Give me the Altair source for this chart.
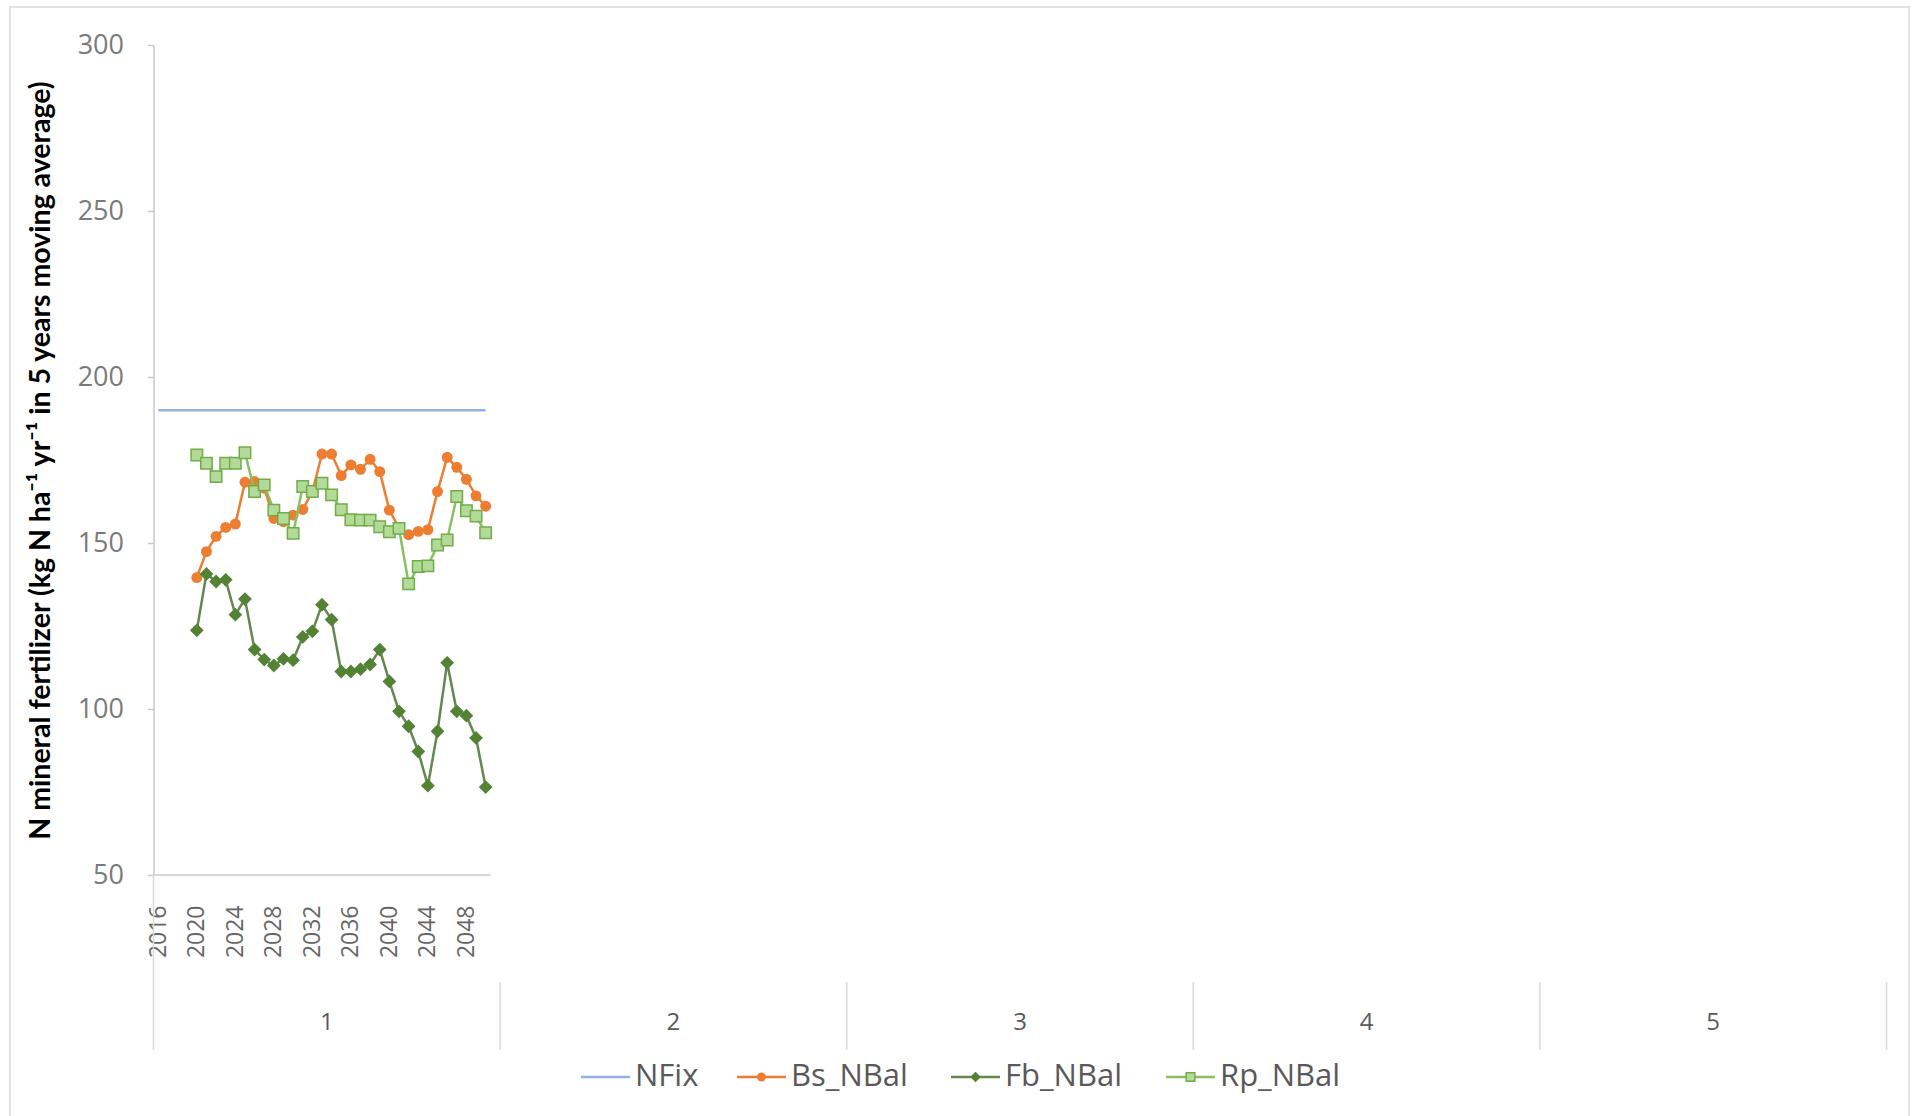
import altair as alt
import pandas as pd

# ---------------- data ----------------
SERIES_NAMES = ["NFix", "Bs_NBal", "Fb_NBal", "Rp_NBal"]

NFIX_YEARS = list(range(2016, 2051))
NFIX_VALUES = [190.0] * 35

YEARS = list(range(2020, 2051))
BS_NBAL = [139.6, 147.4, 152.0, 154.7, 155.7, 168.3, 168.5, 166.5, 157.4, 156.4,
           158.4, 160.1, 165.5, 176.8, 176.8, 170.3, 173.5, 172.2, 175.2, 171.5,
           159.9, 154.5, 152.5, 153.5, 154.0, 165.5, 175.8, 172.8, 169.2, 164.2,
           161.1]
FB_NBAL = [123.7, 140.7, 138.4, 138.9, 128.4, 133.1, 117.9, 114.9, 113.1, 115.1,
           114.7, 121.7, 123.4, 131.4, 126.9, 111.3, 111.3, 112.0, 113.4, 117.9,
           108.3, 99.3, 94.8, 87.2, 76.9, 93.3, 113.9, 99.3, 98.0, 91.3,
           76.5]
RP_NBAL = [176.5, 174.0, 170.0, 174.0, 174.0, 177.2, 165.5, 167.5, 159.9, 157.4,
           152.9, 167.0, 165.5, 168.0, 164.5, 160.0, 157.0, 156.9, 156.9, 154.9,
           153.4, 154.4, 137.7, 142.9, 143.1, 149.4, 150.9, 164.0, 159.7, 158.1,
           153.1]

YEAR_TICKS = [2016, 2020, 2024, 2028, 2032, 2036, 2040, 2044, 2048]
GROUP_LABELS = ["1", "2", "3", "4", "5"]
Y_TICKS = [50, 100, 150, 200, 250, 300]
FIRST_YEAR = 2016
LAST_YEAR = 2050
CATS_PER_GROUP = 36

# ---------------- layout / style ----------------
LEFT, TOP = 153.5, 45
W, H = 1733, 830
N_CATS = CATS_PER_GROUP * len(GROUP_LABELS)

BLUE = "#8DB4E2"
ORANGE = "#ED7D31"
FB_COL = "#548235"
FB_LINE = "#64874F"
RP_LINE = "#86C063"
RP_FILL = "#B4DA9A"
RP_STROKE = "#70AD47"
AXIS_GREY = "#c8c8c8"
LABEL_GREY = "#7a7a7a"
FONT = "Open Sans"


def pos(year):
    return year - FIRST_YEAR + 0.5


x_scale = alt.Scale(domain=[0, N_CATS], nice=False, zero=False)
y_scale = alt.Scale(domain=[50, 300], nice=False, zero=False)


def frame(years, values, name):
    return pd.DataFrame({"x": [pos(y) for y in years], "value": values, "series": name})


df_nfix = frame(NFIX_YEARS, NFIX_VALUES, "NFix")
df_bs = frame(YEARS, BS_NBAL, "Bs_NBal")
df_fb = frame(YEARS, FB_NBAL, "Fb_NBal")
df_rp = frame(YEARS, RP_NBAL, "Rp_NBal")

x_axis = alt.Axis(
    values=[pos(y) for y in YEAR_TICKS],
    labelExpr="'' + (floor(datum.value) + %d)" % FIRST_YEAR,
    labelAngle=270, labelAlign="right", labelBaseline="middle",
    labelPadding=30, ticks=False, domain=False, grid=False, title=None,
    labelFontSize=23, labelColor="#666666", labelFont=FONT,
    labelOverlap=False, labelFlush=False,
)
y_axis = alt.Axis(
    values=Y_TICKS, tickSize=6, tickColor=AXIS_GREY, tickWidth=1.5,
    domainColor=AXIS_GREY, domainWidth=1.5, labelPadding=24,
    labelFontSize=27, labelColor=LABEL_GREY, labelFont=FONT, grid=False,
    title="N mineral fertilizer (kg N ha\u207b\u00b9 yr\u207b\u00b9 in 5 years moving average)",
    titleFont="Lato", titleFontWeight="bold", titleFontSize=28.5, titleColor="#000000",
    titleAngle=270, titleX=-113, titleY=H / 2, titleAlign="center", titleBaseline="middle",
)


def X():
    return alt.X("x:Q", scale=x_scale, axis=x_axis)


def Y():
    return alt.Y("value:Q", scale=y_scale, axis=y_axis)


nfix_line = alt.Chart(df_nfix).mark_line(color=BLUE, strokeWidth=2.5).encode(x=X(), y=Y())

bs_line = alt.Chart(df_bs).mark_line(color=ORANGE, strokeWidth=2.5).encode(x=X(), y=Y())
bs_pts = alt.Chart(df_bs).mark_point(shape="circle", filled=True, color=ORANGE, size=120, opacity=1).encode(x=X(), y=Y())

fb_line = alt.Chart(df_fb).mark_line(color=FB_LINE, strokeWidth=2.5).encode(x=X(), y=Y())
fb_pts = alt.Chart(df_fb).mark_point(shape="diamond", filled=True, color=FB_COL, size=190, opacity=1).encode(x=X(), y=Y())

rp_line = alt.Chart(df_rp).mark_line(color=RP_LINE, strokeWidth=2.5).encode(x=X(), y=Y())
rp_pts = alt.Chart(df_rp).mark_point(shape="square", filled=True, fill=RP_FILL, stroke=RP_STROKE,
                                     strokeWidth=1.5, size=130, opacity=1).encode(x=X(), y=Y())

# x-axis line under the first group
df_xline = pd.DataFrame({"x": [0], "x2": [pos(LAST_YEAR) + 0.5], "value": [50]})
x_line = alt.Chart(df_xline).mark_rule(color=AXIS_GREY, strokeWidth=1.5).encode(
    x=X(), x2="x2:Q", y=Y())

# group separators and labels
df_groups = pd.DataFrame({
    "x": [CATS_PER_GROUP * (k + 0.5) for k in range(len(GROUP_LABELS))],
    "label": GROUP_LABELS,
})
df_bounds = pd.DataFrame({"x": [CATS_PER_GROUP * k for k in range(1, len(GROUP_LABELS) + 1)]})
group_text = alt.Chart(df_groups).mark_text(fontSize=24, font=FONT, color="#595959", baseline="middle").encode(
    x=X(), y=alt.value(H + 148), text="label:N")
group_seps = alt.Chart(df_bounds).mark_rule(color="#d9d9d9", strokeWidth=1.5).encode(
    x=X(), y=alt.value(H + 107), y2=alt.value(H + 175))
left_sep = alt.Chart(pd.DataFrame({"x": [0]})).mark_rule(color="#d9d9d9", strokeWidth=1.5).encode(
    x=X(), y=alt.value(H), y2=alt.value(H + 175))

# outer chart border
dummy = pd.DataFrame({"a": [0]})
border = alt.Chart(dummy).mark_rect(fillOpacity=0, stroke="#d9d9d9", strokeWidth=1.5).encode(
    x=alt.value(10 - LEFT), x2=alt.value(1909 - LEFT), y=alt.value(7 - TOP), y2=alt.value(1125 - TOP))

# manual legend
LEG_Y = H + 202
LEG_X = [581, 737, 951, 1166]
LEG_LEN = 49
legend_layers = []
styles = [
    dict(color=BLUE, marker=None),
    dict(color=ORANGE, marker=dict(shape="circle", filled=True, color=ORANGE, size=80)),
    dict(color=FB_LINE, marker=dict(shape="diamond", filled=True, color=FB_COL, size=110)),
    dict(color=RP_LINE, marker=dict(shape="square", filled=True, fill=RP_FILL, stroke=RP_STROKE,
                                    strokeWidth=1.5, size=75)),
]
for name, lx, st in zip(SERIES_NAMES, LEG_X, styles):
    x0 = lx - LEFT
    legend_layers.append(alt.Chart(dummy).mark_rule(color=st["color"], strokeWidth=2.5).encode(
        x=alt.value(x0), x2=alt.value(x0 + LEG_LEN), y=alt.value(LEG_Y)))
    if st["marker"]:
        legend_layers.append(alt.Chart(dummy).mark_point(opacity=1, **st["marker"]).encode(
            x=alt.value(x0 + LEG_LEN / 2), y=alt.value(LEG_Y)))
    legend_layers.append(alt.Chart(dummy).mark_text(text=name, fontSize=31, font=FONT, color="#595959",
                                                    align="left", baseline="middle").encode(
        x=alt.value(x0 + LEG_LEN + 5), y=alt.value(LEG_Y)))

chart = alt.layer(
    nfix_line, border, x_line, left_sep, group_seps, group_text,
    bs_line, bs_pts, fb_line, fb_pts, rp_line, rp_pts,
    *legend_layers,
).properties(
    width=W, height=H,
    autosize=alt.AutoSizeParams(type="none"),
    padding={"left": LEFT, "top": TOP, "right": 1925 - LEFT - W, "bottom": 1116 - TOP - H},
    background="white",
).configure_view(stroke=None)

chart.save("out.html", embed_options={"renderer": "svg", "actions": False})
